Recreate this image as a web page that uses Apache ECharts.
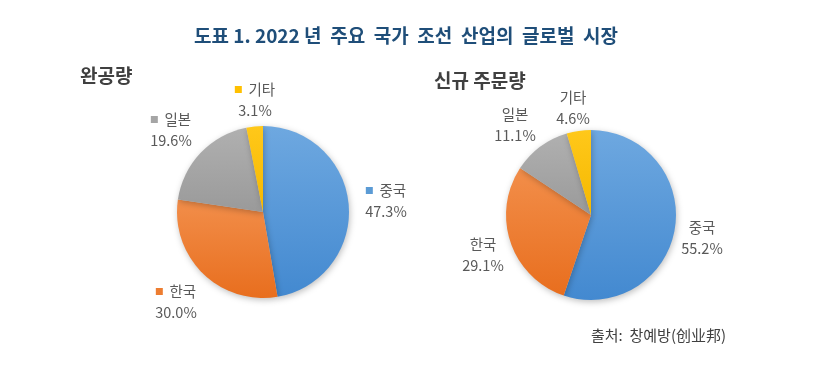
<!DOCTYPE html>
<html><head><meta charset="utf-8">
<script src="https://cdn.jsdelivr.net/npm/echarts@6/dist/echarts.min.js"></script>
<style>html,body{margin:0;padding:0;background:#fff}#c{width:827px;height:378px}</style>
</head><body><div id="c"></div>
<script>
const categories = ['중국', '한국', '일본', '기타'];
const completed = [47.3, 30.0, 19.6, 3.1];
const newOrders = [55.2, 29.1, 11.1, 4.6];
const titleText = '도표 1. 2022 년  주요  국가  조선  산업의  글로벌  시장';
const sub1 = '완공량';
const sub2 = '신규 주문량';
const sourceText = '출처:  창예방(创业邦)';

const F = '"Noto Sans CJK KR", "Noto Sans", sans-serif';
const colTop = ['#6ea8e0', '#f28e4a', '#b0b0b0', '#ffc81a'];
const colBot = ['#4389d0', '#e86e1e', '#9a9a9a', '#f5b800'];
const sq = ['#5b9bd5', '#ed7d31', '#a5a5a5', '#ffc000'];

// label centres (layout)
const lab1 = [[386, 201], [176, 302], [171, 130], [255, 100]];
const lab2 = [[702, 238], [483, 255], [515, 125], [573, 108]];

function mkData(vals, withSq) {
  return vals.map((v, i) => ({
    name: categories[i], value: v,
    itemStyle: {
      color: new echarts.graphic.LinearGradient(0, 0, 0, 1, [
        {offset: 0, color: colTop[i]}, {offset: 1, color: colBot[i]}])
    },
    label: {
      formatter: withSq ? `{s${i}|}  {n|${categories[i]}}\n{n|${v.toFixed(1)}%}` : `{n|${categories[i]}}\n{n|${v.toFixed(1)}%}`
    }
  }));
}
const rich = {n: {fontSize: 14.5, color: '#595959', fontFamily: F, lineHeight: 21}};
sq.forEach((c, i) => { rich['s' + i] = {width: 7, height: 7, backgroundColor: c}; });

function series(vals, center, r, labs, withSq) {
  return {
    type: 'pie', center: center, radius: r, startAngle: 90, clockwise: true,
    data: mkData(vals, withSq),
    label: {show: true, position: 'outside', rich: rich, align: 'center'},
    labelLine: {show: false},
    labelLayout: p => ({x: labs[p.dataIndex][0], y: labs[p.dataIndex][1], align: 'center', verticalAlign: 'middle'}),
    itemStyle: {shadowBlur: 6, shadowColor: 'rgba(0,0,0,0.25)', shadowOffsetX: 1, shadowOffsetY: 2},
    emphasis: {disabled: true},
    animation: false
  };
}

const chart = echarts.init(document.getElementById('c'));
chart.setOption({
  backgroundColor: '#fff',
  animation: false,
  title: [
    {text: titleText, left: 401, top: 21, textAlign: 'center',
     textStyle: {fontFamily: F, fontSize: 19, fontWeight: 'bold', color: '#1f4e79'}},
    {text: sub1, left: 75, top: 61, textStyle: {fontFamily: F, fontSize: 19, fontWeight: 'bold', color: '#404040'}},
    {text: sub2, left: 429, top: 66, textStyle: {fontFamily: F, fontSize: 19, fontWeight: 'bold', color: '#404040'}},
    {text: sourceText, left: 586, top: 323, textStyle: {fontFamily: F, fontSize: 15, fontWeight: 'normal', color: '#404040'}}
  ],
  series: [
    series(completed, [263, 212], 86, lab1, true),
    series(newOrders, [591, 215], 85, lab2, false)
  ]
});
</script></body></html>
